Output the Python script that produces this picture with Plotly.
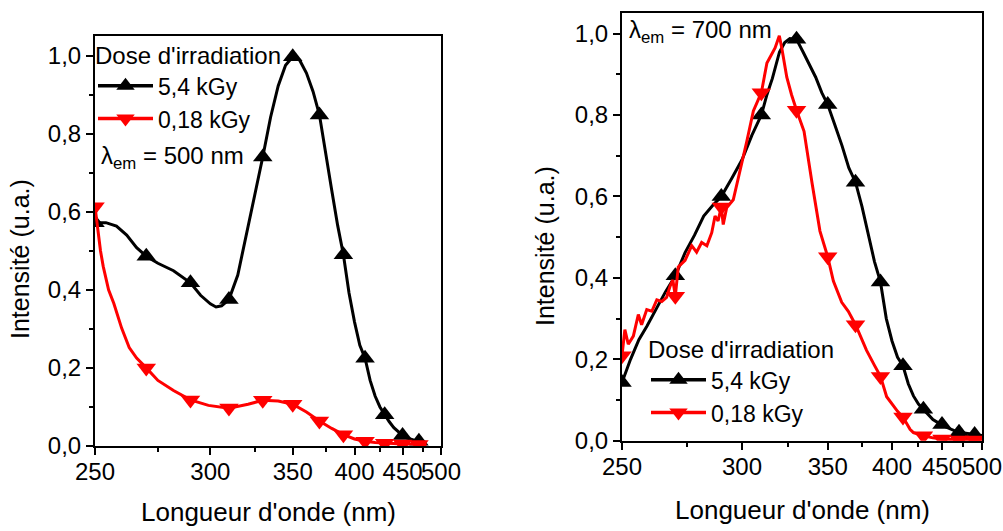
import plotly.graph_objects as go

# ---------------- data ----------------
# Left panel: lambda_em = 500 nm
left_black_wl = [250, 254, 258, 262, 266, 270, 275, 282, 290, 295, 300, 303, 306, 310, 315, 320, 325, 330,
                 335, 340, 345, 350, 355, 360, 365, 370, 375, 380, 385, 390, 395, 400, 405, 410, 415, 420,
                 425, 430, 435, 440, 445, 450, 455, 460, 465, 470, 475, 480]
left_black_y = [0.572, 0.572, 0.563, 0.540, 0.508, 0.486, 0.468, 0.449, 0.418, 0.386, 0.364, 0.356, 0.359,
                0.375, 0.438, 0.538, 0.642, 0.740, 0.842, 0.922, 0.975, 0.997, 0.988, 0.955, 0.908, 0.848,
                0.745, 0.655, 0.565, 0.490, 0.392, 0.318, 0.258, 0.225, 0.168, 0.128, 0.100, 0.080, 0.062,
                0.047, 0.036, 0.027, 0.021, 0.017, 0.014, 0.012, 0.010, 0.009]

left_red_wl = [250, 251, 252, 253, 254, 255, 257, 260, 263, 266, 270, 275, 282, 290, 299, 310, 321, 330,
               340, 350, 360, 370, 380, 390, 400, 410, 420, 430, 440, 450, 460, 470, 480]
left_red_y = [0.613, 0.555, 0.500, 0.460, 0.428, 0.400, 0.365, 0.302, 0.252, 0.225, 0.200, 0.168, 0.142,
              0.118, 0.104, 0.097, 0.107, 0.117, 0.115, 0.107, 0.087, 0.064, 0.045, 0.029, 0.018, 0.012,
              0.009, 0.007, 0.006, 0.005, 0.005, 0.004, 0.004]
left_marker_wl = [250, 270, 290, 310, 330, 350, 370, 390, 410, 430, 450, 470]

# Right panel: lambda_em = 700 nm
right_black_wl = [250, 253, 256, 259, 263, 266, 270, 274, 278, 282, 286, 290, 295, 300, 305, 310, 313, 316,
                  320, 323, 326, 330, 334, 338, 342, 346, 350, 355, 360, 365, 370, 375, 380, 385, 390, 395,
                  400, 405, 410, 415, 420, 425, 430, 435, 440, 445, 450, 455, 460, 465, 470, 475, 480, 485,
                  490, 495, 500]
right_black_y = [0.143, 0.200, 0.248, 0.282, 0.330, 0.365, 0.405, 0.462, 0.505, 0.552, 0.578, 0.600, 0.645,
                 0.690, 0.750, 0.800, 0.850, 0.890, 0.955, 0.978, 0.988, 0.986, 0.955, 0.925, 0.893, 0.855,
                 0.826, 0.775, 0.725, 0.670, 0.635, 0.575, 0.505, 0.440, 0.390, 0.300, 0.245, 0.205, 0.184,
                 0.140, 0.110, 0.090, 0.077, 0.064, 0.052, 0.045, 0.040, 0.033, 0.028, 0.024, 0.021, 0.019,
                 0.017, 0.016, 0.015, 0.014, 0.013]

right_red_wl = [250, 251, 252.2, 254, 255.8, 257, 258.9, 260.8, 262.7, 264.6, 266.5, 267.9, 269, 270, 271.2,
                274, 276.8, 278.9, 281.1, 283.4, 285.6, 287.1, 288.5, 290, 290.9, 292.5, 295.7, 299, 302.4,
                305.8, 310, 313, 315.6, 317.5, 319.9, 321.2, 324.2, 327, 330, 334.6, 339.7, 344.8, 350,
                353.9, 359.8, 364.6, 370, 378.6, 385, 390, 395.3, 400, 405, 410, 416.7, 420, 425, 430, 440,
                450, 460, 470, 480, 490, 500]
right_red_y = [0.209, 0.273, 0.237, 0.257, 0.310, 0.285, 0.322, 0.318, 0.346, 0.342, 0.352, 0.380, 0.395,
               0.355, 0.427, 0.443, 0.479, 0.463, 0.487, 0.479, 0.511, 0.552, 0.540, 0.574, 0.531, 0.572,
               0.592, 0.660, 0.735, 0.810, 0.855, 0.928, 0.951, 0.965, 0.995, 0.967, 0.893, 0.850, 0.812,
               0.760, 0.632, 0.515, 0.452, 0.392, 0.340, 0.318, 0.285, 0.222, 0.185, 0.158, 0.108, 0.090,
               0.072, 0.058, 0.028, 0.020, 0.016, 0.012, 0.007, 0.004, 0.003, 0.002, 0.002, 0.002, 0.002]
right_marker_wl = [250, 270, 290, 310, 330, 350, 370, 390, 410, 430, 450, 470, 490]

series_names = ["5,4 kGy", "0,18 kGy"]
x_tick_wl = [250, 300, 350, 400, 450, 500]
x_minor_wl = [275, 325, 375, 425, 475]
legend_title = "Dose d'irradiation"
x_title = "Longueur d'onde (nm)"
y_title = "Intensité (u.a.)"

# ---------------- figure ----------------
FONT = "Liberation Sans, Arial, sans-serif"
W, H = 1003, 531


def recip(wl):
    # the wavelength axis of the original is linear in 1/lambda (energy scale)
    return [-1000.0 / w for w in wl]


fig = go.Figure()


def add_series(wl, y, color, symbol, xa, ya, name, legend, marker_wl):
    fig.add_trace(go.Scatter(x=recip(wl), y=y, mode="lines", line=dict(color=color, width=3),
                             xaxis=xa, yaxis=ya, showlegend=False, hoverinfo="skip"))
    mw = [w for w in wl if w in marker_wl]
    my = [v for w, v in zip(wl, y) if w in marker_wl]
    fig.add_trace(go.Scatter(x=recip(mw), y=my, mode="markers",
                             marker=dict(symbol=symbol, size=17, color=color, line=dict(width=0)),
                             xaxis=xa, yaxis=ya, showlegend=False, hoverinfo="skip"))
    fig.add_trace(go.Scatter(x=[None], y=[None], mode="lines+markers", name=name, legend=legend,
                             line=dict(color=color, width=3.5),
                             marker=dict(symbol=symbol, size=16, color=color, line=dict(width=0)),
                             xaxis=xa, yaxis=ya, showlegend=True))


add_series(left_black_wl, left_black_y, "#000000", "triangle-up", "x", "y", series_names[0], "legend", left_marker_wl)
add_series(left_red_wl, left_red_y, "#ff0000", "triangle-down", "x", "y", series_names[1], "legend", left_marker_wl)
add_series(right_black_wl, right_black_y, "#000000", "triangle-up", "x2", "y2", series_names[0], "legend2", right_marker_wl)
add_series(right_red_wl, right_red_y, "#ff0000", "triangle-down", "x2", "y2", series_names[1], "legend2", right_marker_wl)


def px(v):
    return v / W


def py(v):
    return 1 - v / H


xcommon = dict(range=recip([250, 500]), tickmode="array", tickvals=recip(x_tick_wl),
               ticktext=[str(t) for t in x_tick_wl], ticks="outside", ticklen=7, tickwidth=1.5,
               tickcolor="black", showline=True, linewidth=2, linecolor="black", mirror=True,
               showgrid=False, zeroline=False, tickfont=dict(family=FONT, size=24, color="black"),
               tickangle=0, automargin=False, ticklabelstandoff=-4,
               minor=dict(tickmode="array", tickvals=recip(x_minor_wl), ticks="outside", ticklen=4,
                          tickwidth=1.5, tickcolor="black"),
               fixedrange=True)
ycommon = dict(range=[0, 1.05], tickmode="linear", tick0=0, dtick=0.2, tickformat=".1f",
               ticks="outside", ticklen=7, tickwidth=1.5, tickcolor="black", showline=True, linewidth=2,
               linecolor="black", mirror=True, showgrid=False, zeroline=False, automargin=False,
               tickfont=dict(family=FONT, size=24, color="black"),
               minor=dict(tickmode="linear", dtick=0.1, ticks="outside", ticklen=4, tickwidth=1.5,
                          tickcolor="black"),
               fixedrange=True)

fig.update_layout(
    width=W, height=H, margin=dict(l=0, r=0, t=0, b=0, autoexpand=False),
    paper_bgcolor="white", plot_bgcolor="white", separators=",.",
    font=dict(family=FONT, size=24, color="black"),
    xaxis=dict(domain=[px(95), px(441)], anchor="y", **xcommon),
    yaxis=dict(domain=[py(446), py(36)], anchor="x", **ycommon),
    xaxis2=dict(domain=[px(622), px(982)], anchor="y2", **xcommon),
    yaxis2=dict(domain=[py(440.7), py(13.3)], anchor="x2", **ycommon),
    legend=dict(x=px(93), y=py(33), xanchor="left", yanchor="top", bgcolor="rgba(0,0,0,0)",
                title=dict(text=legend_title, font=dict(family=FONT, size=24, color="black")),
                font=dict(family=FONT, size=23, color="black"), itemwidth=55, tracegroupgap=0,
                itemclick=False, itemdoubleclick=False),
    legend2=dict(x=px(646), y=py(327), xanchor="left", yanchor="top", bgcolor="rgba(0,0,0,0)",
                 title=dict(text=legend_title, font=dict(family=FONT, size=24, color="black")),
                 font=dict(family=FONT, size=23, color="black"), itemwidth=55, tracegroupgap=0,
                 itemclick=False, itemdoubleclick=False),
    showlegend=True,
)

annotations = [
    dict(text="λ<sub>em</sub> = 500 nm", x=px(99), y=py(157), xanchor="left", yanchor="middle"),
    dict(text="λ<sub>em</sub> = 700 nm", x=px(627), y=py(32), xanchor="left", yanchor="middle"),
    dict(text=x_title, x=px(268), y=py(512), xanchor="center", yanchor="middle", font=dict(size=26)),
    dict(text=x_title, x=px(802), y=py(510), xanchor="center", yanchor="middle", font=dict(size=26)),
    dict(text=y_title, x=px(20), y=py(259), xanchor="center", yanchor="middle", textangle=-90, font=dict(size=25)),
    dict(text=y_title, x=px(545), y=py(246), xanchor="center", yanchor="middle", textangle=-90, font=dict(size=25)),
]
for a in annotations:
    a.update(xref="paper", yref="paper", showarrow=False)
    f = dict(family=FONT, size=24, color="black")
    f.update(a.get("font", {}))
    a["font"] = f
fig.update_layout(annotations=annotations)

fig.write_html("out.html", config={"displayModeBar": False},
               post_script="document.body.style.margin='0';document.body.style.padding='0';")
